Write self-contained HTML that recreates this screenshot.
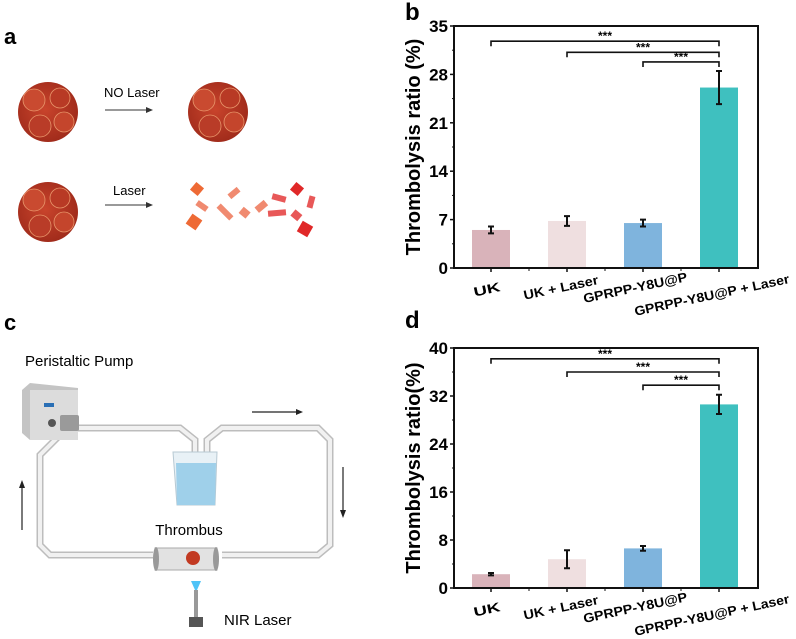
<!DOCTYPE html>
<html><head><meta charset="utf-8"><style>
body{margin:0;background:#fff;width:796px;height:639px;overflow:hidden;font-family:"Liberation Sans",sans-serif}
svg{position:absolute;left:0;top:0}
</style></head><body>
<svg width="796" height="639" viewBox="0 0 796 639">
<defs>
<radialGradient id="clotg" cx="0.45" cy="0.45" r="0.6"><stop offset="0" stop-color="#c9442c"/><stop offset="1" stop-color="#9e2a1a"/></radialGradient>
</defs>
<g>
<text x="4" y="44" font-size="22" font-weight="bold">a</text>
<g>
<circle cx="48" cy="112" r="30" fill="url(#clotg)"/>
<circle cx="34" cy="100" r="11" fill="#c94a30" stroke="#e8956a" stroke-width="0.8"/><circle cx="60" cy="98" r="10" fill="#b83a25" stroke="#e8956a" stroke-width="0.8"/><circle cx="40" cy="126" r="11" fill="#b93c28" stroke="#e8956a" stroke-width="0.8"/><circle cx="64" cy="122" r="10" fill="#c4452c" stroke="#e8956a" stroke-width="0.8"/>
</g>
<g>
<circle cx="218" cy="112" r="30" fill="url(#clotg)"/>
<circle cx="204" cy="100" r="11" fill="#c94a30" stroke="#e8956a" stroke-width="0.8"/><circle cx="230" cy="98" r="10" fill="#b83a25" stroke="#e8956a" stroke-width="0.8"/><circle cx="210" cy="126" r="11" fill="#b93c28" stroke="#e8956a" stroke-width="0.8"/><circle cx="234" cy="122" r="10" fill="#c4452c" stroke="#e8956a" stroke-width="0.8"/>
</g>
<g>
<circle cx="48" cy="212" r="30" fill="url(#clotg)"/>
<circle cx="34" cy="200" r="11" fill="#c94a30" stroke="#e8956a" stroke-width="0.8"/><circle cx="60" cy="198" r="10" fill="#b83a25" stroke="#e8956a" stroke-width="0.8"/><circle cx="40" cy="226" r="11" fill="#b93c28" stroke="#e8956a" stroke-width="0.8"/><circle cx="64" cy="222" r="10" fill="#c4452c" stroke="#e8956a" stroke-width="0.8"/>
</g>
<text x="104" y="97" font-size="13">NO Laser</text>
<line x1="105" y1="110" x2="148" y2="110" stroke="#333" stroke-width="1"/><path d="M146,107 L153,110 L146,113Z" fill="#333"/>
<text x="113" y="195" font-size="13">Laser</text>
<line x1="105" y1="205" x2="148" y2="205" stroke="#333" stroke-width="1"/><path d="M146,202 L153,205 L146,208Z" fill="#333"/>
<g>
<rect x="192" y="184" width="10" height="10" fill="#ee6a35" transform="rotate(40 197 189)"/>
<rect x="196" y="203" width="12" height="6" fill="#f08a70" transform="rotate(35 202 206)"/>
<rect x="188" y="216" width="12" height="12" fill="#ee6a35" transform="rotate(35 194 222)"/>
<rect x="228" y="190" width="12" height="6" fill="#f08a70" transform="rotate(-40 234 193)"/>
<rect x="216" y="209" width="18" height="6" fill="#f08a70" transform="rotate(45 225 212)"/>
<rect x="240" y="209" width="9" height="8" fill="#f08a70" transform="rotate(40 245 213)"/>
<rect x="255" y="203" width="12" height="7" fill="#f08a70" transform="rotate(-40 261 206)"/>
<rect x="272" y="195" width="14" height="6" fill="#e85858" transform="rotate(15 279 198)"/>
<rect x="268" y="210" width="18" height="6" fill="#e85858" transform="rotate(-5 277 213)"/>
<rect x="292" y="184" width="10" height="10" fill="#e02828" transform="rotate(40 297 189)"/>
<rect x="305" y="199" width="12" height="6" fill="#e85858" transform="rotate(-75 311 202)"/>
<rect x="292" y="211" width="9" height="8" fill="#e85858" transform="rotate(40 296 215)"/>
<rect x="299" y="223" width="12" height="12" fill="#e02828" transform="rotate(30 305 229)"/>
</g>
</g>
<g>
<text x="4" y="330" font-size="22" font-weight="bold">c</text>
<text x="25" y="366" font-size="15">Peristaltic Pump</text>
<path d="M65,428 L180,428 L195,440 L195,475 M207,475 L207,440 L222,428 L318,428 L330,440 L330,545 L318,555 L222,555 M153,555 L50,555 L40,545 L40,455 L60,435" fill="none" stroke="#bdbdbd" stroke-width="7"/>
<path d="M65,428 L180,428 L195,440 L195,475 M207,475 L207,440 L222,428 L318,428 L330,440 L330,545 L318,555 L222,555 M153,555 L50,555 L40,545 L40,455 L60,435" fill="none" stroke="#f1f1f1" stroke-width="4"/>
<g>
<path d="M22,390 L30,383 L78,388 L78,440 L30,440 L22,433Z" fill="#c4c4c4"/>
<rect x="30" y="390" width="48" height="50" fill="#dcdcdc"/>
<rect x="44" y="403" width="10" height="4" fill="#2a6fb5"/>
<circle cx="52" cy="423" r="4" fill="#555"/>
<rect x="60" y="415" width="19" height="16" rx="2" fill="#9a9a9a"/>
</g>
<g>
<path d="M173,452 L217,452 L215,505 L177,505Z" fill="#e8f1f6" stroke="#b7c9d3"/>
<path d="M176,463 L216,463 L215,505 L177,505Z" fill="#9fd0ea"/>
</g>
<g>
<rect x="155" y="548" width="62" height="22" fill="#e2e2e2" stroke="#aaa"/>
<ellipse cx="156" cy="559" rx="3" ry="12" fill="#999"/><ellipse cx="216" cy="559" rx="3" ry="12" fill="#999"/>
<circle cx="193" cy="558" r="7" fill="#c23a22"/>
</g>
<text x="189" y="535" font-size="15" text-anchor="middle">Thrombus</text>
<g>
<path d="M191,581 L201,581 L197,590 L195,590Z" fill="#4fc3f7"/>
<rect x="194" y="590" width="4" height="28" fill="#999"/>
<rect x="189" y="617" width="14" height="10" fill="#555"/>
</g>
<text x="224" y="625" font-size="15">NIR Laser</text>
<line x1="252" y1="412" x2="298" y2="412" stroke="#222" stroke-width="1.2"/><path d="M296,409 L303,412 L296,415Z" fill="#222"/>
<line x1="343" y1="467" x2="343" y2="512" stroke="#222" stroke-width="1.2"/><path d="M340,510 L343,518 L346,510Z" fill="#222"/>
<line x1="22" y1="530" x2="22" y2="486" stroke="#222" stroke-width="1.2"/><path d="M19,488 L22,480 L25,488Z" fill="#222"/>
</g>
<g id="chartB"></g>
<g id="chartD"></g>
</svg>
<script>
const categories = ["UK","UK + Laser","GPRPP-Y8U@P","GPRPP-Y8U@P + Laser"];
const colors = ["#d9b3ba","#efdfe0","#7fb4dd","#3fc0bf"];
const bValues = [5.5, 6.8, 6.5, 26.1];
const bErrors = [0.5, 0.7, 0.5, 2.4];
const bTicks = [0,7,14,21,28,35];
const bBrackets = [[0,32.8],[1,31.2],[2,29.8]];
const dValues = [2.3, 4.8, 6.6, 30.6];
const dErrors = [0.2, 1.5, 0.4, 1.6];
const dTicks = [0,8,16,24,32,40];
const dBrackets = [[0,38.2],[1,36.0],[2,33.8]];

const NS="http://www.w3.org/2000/svg";
function mk(parent, tag, attrs, text){const e=document.createElementNS(NS,tag);for(const k in attrs)e.setAttribute(k,attrs[k]);if(text!==undefined)e.textContent=text;parent.appendChild(e);return e;}
const labEnd=[[10,23],[32,16],[45,13],[71,15]];
const labLen=[27,76,106,158];

function drawChart(g, opt){
  const L=454,R=758,T=opt.top,B=opt.bottom,ymax=opt.ticks[opt.ticks.length-1];
  const y=v=>B-(v/ymax)*(B-T);
  const step=(R-L)/4;
  const x=i=>L+step*(i+0.5)-1;
  const lab=mk(g,'text',{x:405,y:opt.labelY,'font-size':24,'font-weight':'bold'},opt.label);
  
  
  opt.values.forEach((v,i)=>{
    const r=mk(g,'rect',{x:x(i)-19,y:y(v),width:38,height:B-y(v),fill:colors[i]});
    
    
    const e=opt.errors[i],t=y(v+e),b=y(v-e);
    const eb=mk(g,'path',{d:`M${x(i)},${t}V${b}M${x(i)-3},${t}h6M${x(i)-3},${b}h6`,stroke:'#111','stroke-width':2,fill:'none'});
    
    
  });
  const box=mk(g,'rect',{x:L,y:T,width:R-L,height:B-T,fill:'none',stroke:'#111','stroke-width':2});
  
  
  opt.ticks.forEach((t,k)=>{
    mk(g,'line',{x1:L-4,x2:L,y1:y(t),y2:y(t),stroke:'#111','stroke-width':1.5});
    if(k<opt.ticks.length-1) mk(g,'line',{x1:L-2,x2:L,y1:y(t+(opt.ticks[1]-opt.ticks[0])/2),y2:y(t+(opt.ticks[1]-opt.ticks[0])/2),stroke:'#111','stroke-width':1});
    const tl=mk(g,'text',{x:L-6,y:y(t)+6,'text-anchor':'end','font-size':17,'font-weight':'bold'},String(t));
    
    
  });
  categories.forEach((c,i)=>{
    mk(g,'line',{x1:x(i),x2:x(i),y1:B,y2:B+4,stroke:'#111','stroke-width':1.5});
    if(i<3) mk(g,'line',{x1:x(i)+step/2,x2:x(i)+step/2,y1:B,y2:B+3,stroke:'#111','stroke-width':1});
    const ex=x(i)+labEnd[i][0], ey=B+labEnd[i][1];
    const tx=mk(g,'text',{x:ex,y:ey,'text-anchor':'end','font-size':13,'font-weight':'bold',textLength:labLen[i],lengthAdjust:'spacingAndGlyphs',transform:`rotate(-12 ${ex} ${ey})`},c);
    
    
  });
  opt.brackets.forEach(([i,v])=>{
    const yy=y(v);
    const br=mk(g,'path',{d:`M${x(i)},${yy+5}V${yy}H${x(3)}V${yy+5}`,stroke:'#111','stroke-width':1.6,fill:'none'});
    
    
    const st=mk(g,'text',{x:(x(i)+x(3))/2,y:yy-1,'text-anchor':'middle','font-size':12,'font-weight':'bold'},'***');
    
    
  });
  const yt=mk(g,'text',{x:0,y:0,'text-anchor':'middle','font-size':20,'font-weight':'bold',transform:`translate(420 ${(T+B)/2}) rotate(-90)`},opt.title);
  
  
}
drawChart(document.getElementById('chartB'),{top:26,bottom:268,ticks:bTicks,values:bValues,errors:bErrors,brackets:bBrackets,label:'b',labelY:20,title:'Thrombolysis ratio (%)'});
drawChart(document.getElementById('chartD'),{top:348,bottom:588,ticks:dTicks,values:dValues,errors:dErrors,brackets:dBrackets,label:'d',labelY:328,title:'Thrombolysis ratio(%)'});
</script>
</body></html>
